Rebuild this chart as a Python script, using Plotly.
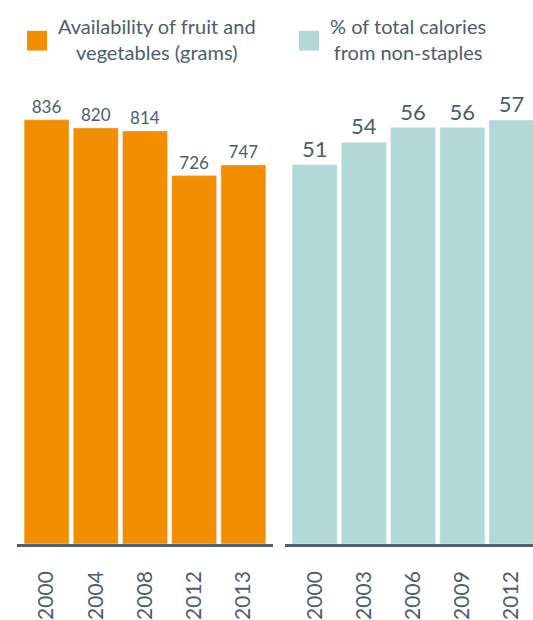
import plotly.graph_objects as go

# Availability of fruit and vegetables (grams)
fv_years = ["2000", "2004", "2008", "2012", "2013"]
fv_grams = [836, 820, 814, 726, 747]

# Share of total calories from non-staples (%)
ns_years = ["2000", "2003", "2006", "2009", "2012"]
ns_share = [51, 54, 56, 56, 57]

fv_name = "Availability of fruit and<br>vegetables (grams)"
ns_name = "% of total calories<br>from non-staples"

ORANGE = "#F28E00"
TEAL = "#B2D8D8"
SLATE = "#4B5D6E"
FONT = "Lato, 'Open Sans', sans-serif"

W, H = 533, 620
TOP, BOTTOM = 100, 549  # plot area in pixels


def py(ypx):
    """Pixel row -> paper y (paper spans the plot area)."""
    return (BOTTOM - ypx) / (BOTTOM - TOP)


fig = go.Figure()
fig.add_trace(go.Bar(
    x=fv_years, y=fv_grams, marker_color=ORANGE, name=fv_name,
    texttemplate="%{y}", textposition="outside", cliponaxis=False,
    textfont=dict(size=17, color=SLATE, family=FONT),
    xaxis="x", yaxis="y",
))
fig.add_trace(go.Bar(
    x=ns_years, y=ns_share, marker_color=TEAL, name=ns_name,
    texttemplate="%{y}", textposition="outside", cliponaxis=False,
    textfont=dict(size=22, color=SLATE, family=FONT),
    xaxis="x2", yaxis="y2",
))

xcommon = dict(
    type="category", tickangle=-90, showline=True, linewidth=2.5,
    linecolor="#4E6172", showgrid=False, zeroline=False,
    ticks="outside", ticklen=16, tickcolor="rgba(0,0,0,0)",
    tickfont=dict(size=21, color=SLATE, family=FONT),
    fixedrange=True,
)
ycommon = dict(visible=False, showgrid=False, zeroline=False, fixedrange=True)

fig.update_layout(
    width=W, height=H,
    margin=dict(l=0, r=0, t=TOP, b=H - BOTTOM),
    paper_bgcolor="white", plot_bgcolor="white",
    showlegend=False, bargap=0.086,
    font=dict(family=FONT, color=SLATE),
    xaxis=dict(domain=[0.032, 0.512], range=[-0.6, 4.6], anchor="y", **xcommon),
    yaxis=dict(domain=[0, 1], range=[0, 875], anchor="x", **ycommon),
    xaxis2=dict(domain=[0.535, 1.0], range=[-0.6, 4.436], anchor="y2", **xcommon),
    yaxis2=dict(domain=[0, 1], range=[0, 59.7], anchor="x2", **ycommon),
)

# Legend keys: coloured squares with centred two-line captions
for x0, color, label, cx in [(27, ORANGE, fv_name, 157), (299, TEAL, ns_name, 408)]:
    fig.add_shape(type="rect", xref="paper", yref="paper",
                  x0=x0 / W, x1=(x0 + 20) / W,
                  y0=py(50), y1=py(30),
                  fillcolor=color, line_width=0)
    fig.add_annotation(xref="paper", yref="paper", x=cx / W, y=py(38),
                       text=label, showarrow=False, align="center",
                       xanchor="center", yanchor="middle",
                       font=dict(size=20, color=SLATE, family=FONT))

fig.write_html("out.html")
